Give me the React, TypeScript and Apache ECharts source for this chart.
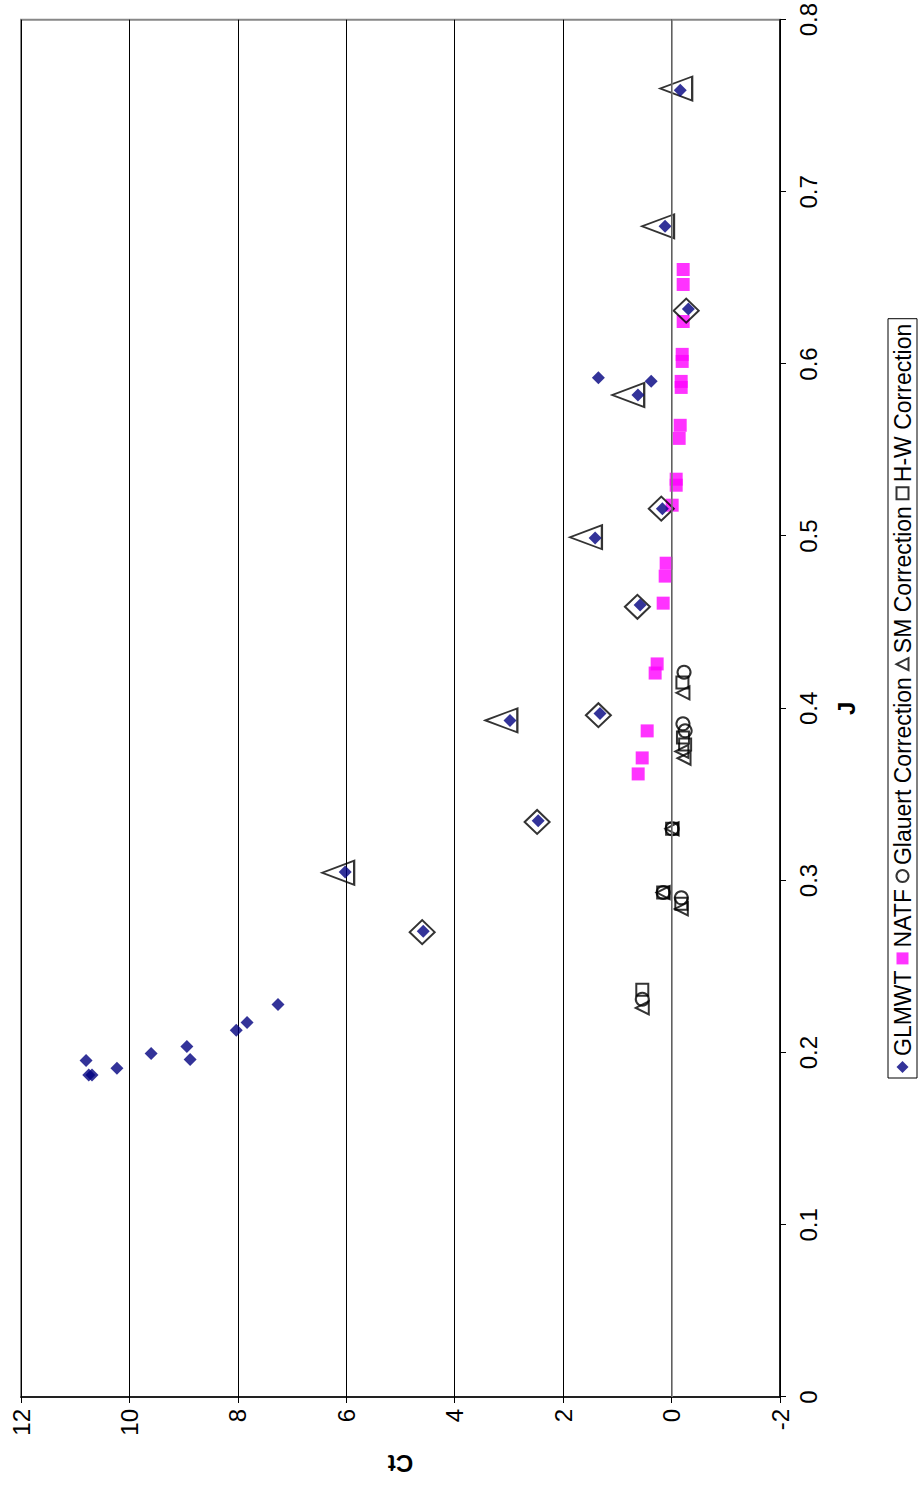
import React, { useEffect, useRef } from "react";
import * as echarts from "echarts";

// Axis ticks
const jTicks = [0, 0.1, 0.2, 0.3, 0.4, 0.5, 0.6, 0.7, 0.8];
const ctTicks = [-2, 0, 2, 4, 6, 8, 10, 12];

// GLMWT (filled navy diamonds)
const glmwtJ = [0.1955, 0.187, 0.187, 0.191, 0.1995, 0.2036, 0.196, 0.213, 0.2175, 0.228, 0.2705, 0.305, 0.3347, 0.393, 0.397, 0.46, 0.499, 0.516, 0.582, 0.59, 0.592, 0.632, 0.68, 0.759];
const glmwtCt = [10.8, 10.75, 10.69, 10.23, 9.6, 8.94, 8.88, 8.03, 7.83, 7.26, 4.58, 6.02, 2.46, 2.98, 1.32, 0.58, 1.41, 0.17, 0.62, 0.376, 1.35, -0.31, 0.12, -0.16];

// NATF (magenta squares)
const natfJ = [0.6549, 0.6462, 0.6247, 0.6056, 0.6015, 0.5899, 0.5864, 0.5644, 0.5568, 0.5331, 0.5296, 0.518, 0.4843, 0.4768, 0.4611, 0.4258, 0.4205, 0.3869, 0.3712, 0.3619];
const natfCt = [-0.214, -0.214, -0.214, -0.196, -0.196, -0.177, -0.177, -0.159, -0.14, -0.085, -0.085, -0.011, 0.1, 0.118, 0.155, 0.266, 0.303, 0.45, 0.542, 0.616];

// Glauert Correction (open circles)
const glauertJ = [0.421, 0.391, 0.387, 0.33, 0.293, 0.29, 0.231];
const glauertCt = [-0.23, -0.21, -0.25, -0.01, 0.155, -0.18, 0.54];

// SM Correction (open triangles)
const smJ = [0.409, 0.375, 0.371, 0.33, 0.293, 0.2835, 0.226];
const smCt = [-0.21, -0.19, -0.23, -0.01, 0.155, -0.18, 0.54];

// H-W Correction (open squares)
const hwJ = [0.415, 0.383, 0.379, 0.33, 0.293, 0.2865, 0.2365];
const hwCt = [-0.2, -0.21, -0.25, -0.01, 0.155, -0.18, 0.54];

// Large open triangles around GLMWT points
const bigTriJ = [0.3045, 0.393, 0.4994, 0.582, 0.68, 0.76];
const bigTriCt = [6.15, 3.14, 1.58, 0.8, 0.25, -0.085];

// Large open diamonds around GLMWT points
const bigDiaJ = [0.27, 0.334, 0.396, 0.459, 0.516, 0.631];
const bigDiaCt = [4.6, 2.48, 1.35, 0.63, 0.19, -0.27];

const legendNames = ["GLMWT", "NATF", "Glauert Correction", "SM Correction", "H-W Correction"];

const FONT = "'Liberation Sans', Arial, sans-serif";

const pairs = (xs: number[], ys: number[]) => xs.map((x, i) => [x, ys[i]]);

export default function App() {
  const ref = useRef<HTMLDivElement>(null);

  useEffect(() => {
    if (!ref.current) return;
    const chart = echarts.init(ref.current, undefined, { renderer: "svg" });
    const openStyle = (w: number) => ({
      color: "rgba(255,255,255,0)",
      borderColor: "#000",
      borderWidth: w,
    });
    chart.setOption({
      animation: false,
      backgroundColor: "#fff",
      textStyle: { fontFamily: FONT },
      grid: {
        left: 88,
        right: 18,
        top: 21,
        bottom: 143,
        show: true,
        borderColor: "#888",
        borderWidth: 2,
        backgroundColor: "#fff",
      },
      legend: {
        data: legendNames,
        left: 407,
        top: 888,
        orient: "horizontal",
        itemWidth: 12,
        itemHeight: 12,
        itemGap: 6,
        padding: [3, 5, 3, 5],
        borderColor: "#000",
        borderWidth: 1,
        textStyle: { fontFamily: FONT, fontSize: 23, color: "#000" },
      },
      xAxis: {
        type: "value",
        min: jTicks[0],
        max: jTicks[jTicks.length - 1],
        interval: 0.1,
        name: "J",
        nameLocation: "middle",
        nameGap: 54,
        nameTextStyle: { fontFamily: FONT, fontSize: 24, fontWeight: "bold", color: "#000" },
        axisLine: { onZero: false, lineStyle: { color: "#000", width: 1.5 } },
        axisTick: { show: true, inside: false, length: 6, lineStyle: { color: "#000" } },
        axisLabel: {
          fontFamily: FONT,
          fontSize: 24,
          color: "#000",
          margin: 16,
          formatter: (v: number) => String(Math.round(v * 10) / 10),
        },
        splitLine: { show: false },
      },
      yAxis: {
        type: "value",
        min: ctTicks[0],
        max: ctTicks[ctTicks.length - 1],
        interval: 2,
        name: "Ct",
        nameLocation: "middle",
        nameGap: 54,
        nameTextStyle: { fontFamily: FONT, fontSize: 24, fontWeight: "bold", color: "#000" },
        axisLine: { onZero: false, lineStyle: { color: "#000", width: 1.5 } },
        axisTick: { show: true, inside: false, length: 6, lineStyle: { color: "#000" } },
        axisLabel: { fontFamily: FONT, fontSize: 24, color: "#000", margin: 12 },
        splitLine: { show: true, lineStyle: { color: "#000", width: 1 } },
      },
      series: [
        {
          name: "NATF",
          type: "scatter",
          symbol: "rect",
          symbolSize: 13,
          itemStyle: { color: "#FF00FF" },
          data: pairs(natfJ, natfCt),
          markLine: {
            silent: true,
            symbol: "none",
            label: { show: false },
            lineStyle: { color: "#808080", width: 1.5, type: "solid" },
            data: [{ yAxis: 0 }],
          },
        },
        {
          name: "SM large",
          type: "scatter",
          symbol: "triangle",
          symbolSize: [24, 32],
          itemStyle: openStyle(2),
          data: pairs(bigTriJ, bigTriCt),
        },
        {
          name: "Outline large",
          type: "scatter",
          symbol: "diamond",
          symbolSize: [24, 25],
          itemStyle: openStyle(2),
          data: pairs(bigDiaJ, bigDiaCt),
        },
        {
          name: "Glauert Correction",
          type: "scatter",
          symbol: "circle",
          symbolSize: 13,
          itemStyle: openStyle(2),
          data: pairs(glauertJ, glauertCt),
        },
        {
          name: "SM Correction",
          type: "scatter",
          symbol: "triangle",
          symbolSize: 13,
          itemStyle: openStyle(2),
          data: pairs(smJ, smCt),
        },
        {
          name: "H-W Correction",
          type: "scatter",
          symbol: "rect",
          symbolSize: 12,
          itemStyle: openStyle(2),
          data: pairs(hwJ, hwCt),
        },
        {
          name: "GLMWT",
          type: "scatter",
          symbol: "diamond",
          symbolSize: 13,
          itemStyle: { color: "#000080" },
          data: pairs(glmwtJ, glmwtCt),
        },
      ],
    });
    return () => chart.dispose();
  }, []);

  return (
    <div
      style={{
        position: "fixed",
        left: 0,
        top: 0,
        width: 923,
        height: 1485,
        overflow: "hidden",
        background: "#fff",
      }}
    >
      <div
        style={{
          position: "absolute",
          left: 0,
          top: 0,
          width: 1485,
          height: 923,
          transformOrigin: "0 0",
          transform: "translate(0px, 1485px) rotate(-90deg)",
        }}
      >
        <div ref={ref} style={{ width: 1485, height: 923 }} />
      </div>
    </div>
  );
}
